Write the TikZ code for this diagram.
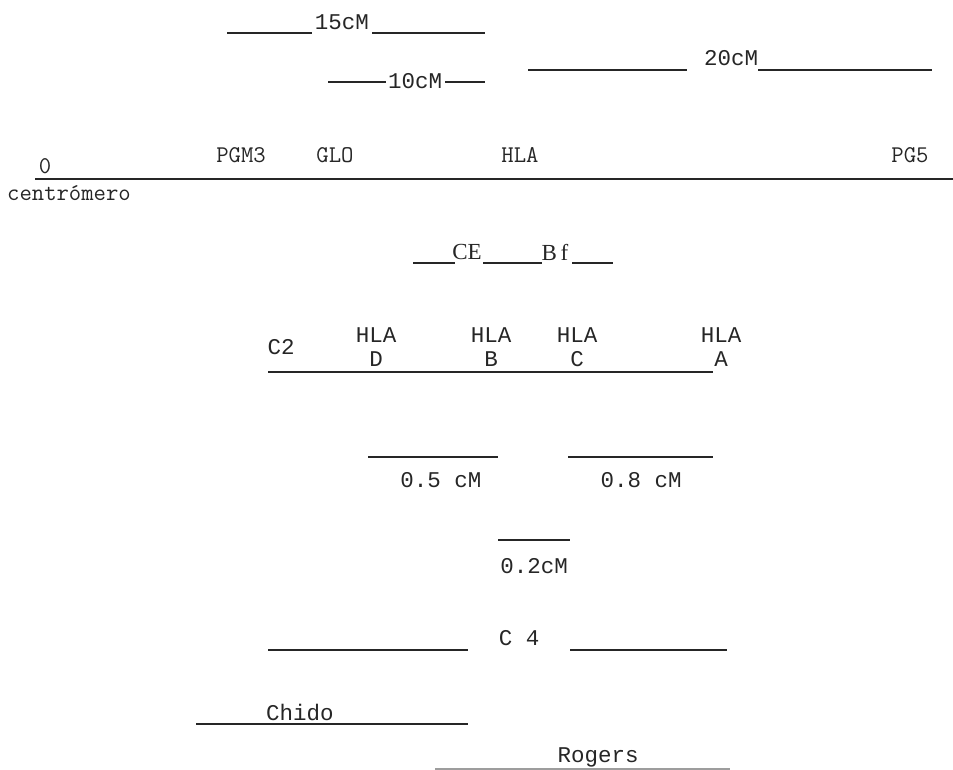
\documentclass[tikz,border=0pt]{standalone}
\usepackage{fontspec}
\newfontfamily\tw{Liberation Mono}
\newfontfamily\sr{Liberation Serif}
\definecolor{ink}{HTML}{262626}
\begin{document}
\begin{tikzpicture}[x=1pt,y=-1pt,
  bar/.style={draw=ink,line width=1.3pt},
  faintbar/.style={draw=ink!45,line width=1.1pt},
  lbl/.style={font=\tw\fontsize{22.5}{24}\selectfont,text=ink,inner sep=0pt,anchor=center},
  serlbl/.style={font=\sr\fontsize{23}{24}\selectfont,text=ink,inner sep=0pt,anchor=center},
  chrom/.style={font=\ttfamily\fontsize{24}{25}\selectfont,text=ink,inner sep=0pt,anchor=center}]
\useasboundingbox (0,0) rectangle (953,770);

% --- distance scales above the map ---
\node[lbl] (d15) at (342,22) {15cM};
\coordinate (d15a) at (227,33); \coordinate (d15b) at (312,33);
\coordinate (d15c) at (372,33); \coordinate (d15d) at (485,33);
\draw[bar] (d15a) -- (d15b); \draw[bar] (d15c) -- (d15d);

\node[lbl] (d10) at (415,81) {10cM};
\coordinate (d10a) at (328,82); \coordinate (d10b) at (386,82);
\coordinate (d10c) at (445,82); \coordinate (d10d) at (485,82);
\draw[bar] (d10a) -- (d10b); \draw[bar] (d10c) -- (d10d);

\node[lbl] (d20) at (731,58) {20cM};
\coordinate (d20a) at (528,70); \coordinate (d20b) at (687,70);
\coordinate (d20c) at (758,70); \coordinate (d20d) at (932,70);
\draw[bar] (d20a) -- (d20b); \draw[bar] (d20c) -- (d20d);

% --- chromosome arm ---
\coordinate (armL) at (35,179); \coordinate (armR) at (953,179);
\draw[bar] (armL) -- (armR);
\node[chrom] (zero) at (45,166) {0};
\node[chrom] (cen) at (69,193) {centrómero};
\node[chrom] (pgm) at (241,155) {PGM3};
\node[chrom] (glo) at (335,155) {GLO};
\node[chrom] (hla) at (520,155) {HLA};
\node[chrom] (pg5) at (910,155) {PG5};

% --- complement factors ---
\node[serlbl] (ce) at (467,252) {CE};
\node[serlbl] (bf) at (555,252) {B\,f};
\coordinate (ce1) at (413,263); \coordinate (ce2) at (455,263);
\coordinate (ce3) at (483,263); \coordinate (ce4) at (542,263);
\coordinate (ce5) at (572,263); \coordinate (ce6) at (613,263);
\draw[bar] (ce1) -- (ce2); \draw[bar] (ce3) -- (ce4); \draw[bar] (ce5) -- (ce6);

% --- HLA region ---
\node[lbl] (c2) at (281,347) {C2};
\node[lbl] (hd) at (376,335) {HLA}; \node[lbl] (hdl) at (376,359) {D};
\node[lbl] (hb) at (491,335) {HLA}; \node[lbl] (hbl) at (491,359) {B};
\node[lbl] (hc) at (577,335) {HLA}; \node[lbl] (hcl) at (577,359) {C};
\node[lbl] (ha) at (721,335) {HLA}; \node[lbl] (hal) at (721,359) {A};
\coordinate (hl1) at (268,372); \coordinate (hl2) at (713,372);
\draw[bar] (hl1) -- (hl2);

% --- small distances ---
\coordinate (s5a) at (368,457); \coordinate (s5b) at (498,457);
\draw[bar] (s5a) -- (s5b);
\node[lbl] (s5) at (441,480) {0.5 cM};
\coordinate (s8a) at (568,457); \coordinate (s8b) at (713,457);
\draw[bar] (s8a) -- (s8b);
\node[lbl] (s8) at (641,480) {0.8 cM};
\coordinate (s2a) at (498,540); \coordinate (s2b) at (570,540);
\draw[bar] (s2a) -- (s2b);
\node[lbl] (s2) at (534,566) {0.2cM};

% --- C4 loci ---
\node[lbl] (c4) at (519,638) {C 4};
\coordinate (c4a) at (268,650); \coordinate (c4b) at (468,650);
\coordinate (c4c) at (570,650); \coordinate (c4d) at (727,650);
\draw[bar] (c4a) -- (c4b); \draw[bar] (c4c) -- (c4d);

\node[lbl] (chido) at (300,712) {Chido};
\coordinate (ch1) at (196,724); \coordinate (ch2) at (468,724);
\draw[bar] (ch1) -- (ch2);

\node[lbl] (rog) at (598,757) {Rogers};
\coordinate (rg1) at (435,769); \coordinate (rg2) at (730,769);
\draw[faintbar] (rg1) -- (rg2);
\end{tikzpicture}
\end{document}
